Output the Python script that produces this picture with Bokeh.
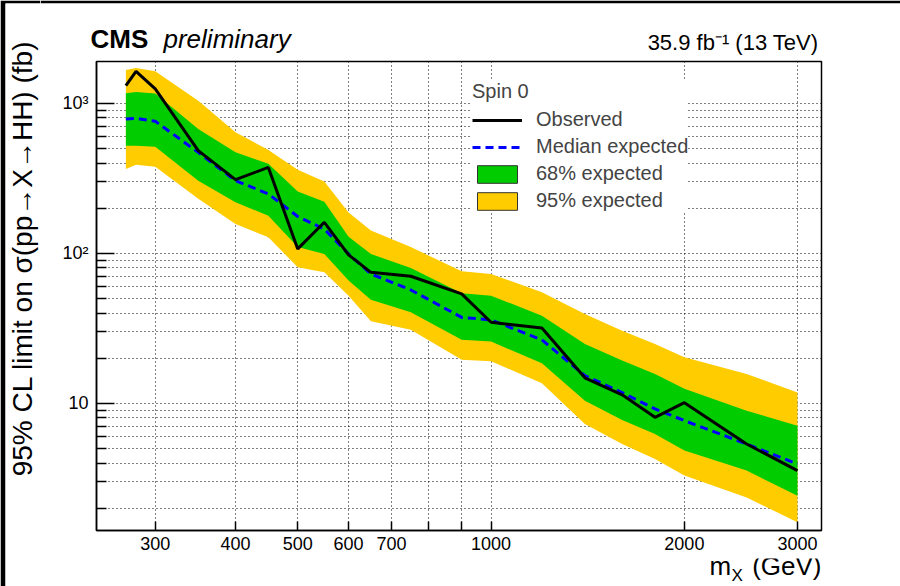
import math
from bokeh.plotting import figure
from bokeh.layouts import column, row
from bokeh.models import (FixedTicker, Label, Legend, LegendItem, Range1d,
                          ColumnDataSource, CDSView, IndexFilter)
from bokeh.embed import file_html
from bokeh.resources import INLINE

# m_X (GeV)
mass = [270, 280, 300, 350, 400, 450, 500, 550, 600, 650, 750, 900,
        1000, 1200, 1400, 1600, 1800, 2000, 2500, 3000]
observed = [1312, 1634, 1247, 484, 310, 374, 107, 161, 97.6, 74.7, 70.3, 53.6,
            34.7, 31.8, 14.8, 11.4, 8.07, 10.1, 5.36, 3.56]
expected = [787, 794, 759, 471, 305, 249, 176, 145, 99, 72.9, 57.0, 37.4,
            36.0, 26.5, 15.3, 11.8, 9.18, 7.67, 5.36, 3.94]
exp_minus1 = [522, 522, 514, 305, 219, 178, 110, 99, 65.8, 49.1, 40.4, 26.5,
              25.8, 18.5, 10.4, 7.75, 6.25, 4.84, 3.56, 2.42]
exp_plus1 = [1166, 1188, 1161, 675, 471, 396, 258, 221, 129, 99, 79.9, 54.1,
             52.2, 38.4, 24.9, 19.3, 15.7, 12.5, 8.94, 7.10]
exp_minus2 = [365, 390, 377, 231, 157, 128, 80.7, 74.7, 52.2, 35.3, 30.9, 19.5,
              19.1, 13.6, 7.29, 5.36, 4.26, 3.30, 2.36, 1.61]
exp_plus2 = [1670, 1722, 1634, 1042, 641, 488, 361, 301, 187, 142, 110, 75.9,
             72.9, 55.0, 39.4, 30.5, 24.9, 20.3, 15.7, 11.8]

x_ticks = [300, 400, 500, 600, 700, 800, 900, 1000, 2000, 3000]
x_tick_labels = ["300", "400", "500", "600", "700", "", "", "1000", "2000", "3000"]
y_ticks = [10, 100, 1000]
y_tick_labels = ["10", "10\u00b2", "10\u00b3"]
y_minor_ticks = [2, 3, 4, 5, 6, 7, 8, 9, 20, 30, 40, 50, 60, 70, 80, 90,
                 200, 300, 400, 500, 600, 700, 800, 900]

FONT = "Liberation Sans"
YELLOW = "#ffcc00"
GREEN = "#00cc00"

LEFT_W = 40
TOP_H = 56
BOT_H = 28
W, H = 900, 586

# ---------------- main plot ----------------
p = figure(width=W - LEFT_W, height=H - TOP_H - BOT_H,
           x_axis_type="log", y_axis_type="log",
           x_range=Range1d(243, 3270), y_range=Range1d(1.42, 1900),
           output_backend="svg", toolbar_location=None,
           min_border_left=56, min_border_right=79, min_border_top=5,
           min_border_bottom=28)
p.frame_align = False
p.background_fill_color = "white"
p.border_fill_color = "white"
p.outline_line_color = "black"
p.outline_line_width = 1.5

# legend proxies (outlined boxes) built from the band data; one interior
# zero-width entry is kept so it is hidden beneath the bands drawn on top
src68 = ColumnDataSource(dict(left=mass, right=mass, top=exp_plus1, bottom=exp_minus1))
src95 = ColumnDataSource(dict(left=mass, right=mass, top=exp_plus2, bottom=exp_minus2))
leg95 = p.quad(left="left", right="right", top="top", bottom="bottom", source=src95,
               view=CDSView(filter=IndexFilter(indices=[5])),
               fill_color=YELLOW, line_color="#333333", line_width=1)
leg68 = p.quad(left="left", right="right", top="top", bottom="bottom", source=src68,
               view=CDSView(filter=IndexFilter(indices=[5])),
               fill_color=GREEN, line_color="#333333", line_width=1)

band95 = p.varea(x=mass, y1=exp_minus2, y2=exp_plus2, fill_color=YELLOW)
band68 = p.varea(x=mass, y1=exp_minus1, y2=exp_plus1, fill_color=GREEN)
med = p.line(mass, expected, line_color="blue", line_width=3, line_dash="8 5")
obs = p.line(mass, observed, line_color="black", line_width=3)

xt = FixedTicker(ticks=x_ticks, minor_ticks=[])
yt = FixedTicker(ticks=y_ticks, minor_ticks=y_minor_ticks)
p.xaxis.ticker = xt
p.yaxis.ticker = yt
p.xgrid.ticker = xt
p.ygrid.ticker = yt
p.xaxis.major_label_overrides = {t: l for t, l in zip(x_ticks, x_tick_labels)}
p.yaxis.major_label_overrides = {t: l for t, l in zip(y_ticks, y_tick_labels)}

for ax in (p.xaxis[0], p.yaxis[0]):
    ax.axis_line_color = "black"
    ax.axis_line_width = 1.5
    ax.major_tick_line_color = "black"
    ax.minor_tick_line_color = "black"
    ax.major_tick_line_width = 1.5
    ax.minor_tick_line_width = 1.5
    ax.major_tick_out = 0
    ax.minor_tick_out = 0
    ax.major_label_text_font = FONT
    ax.major_label_text_font_size = "18px"
    ax.major_label_text_color = "black"

p.xaxis.major_tick_in = 9
p.xaxis.minor_tick_in = 0
p.xaxis.major_label_standoff = 6
p.yaxis.major_tick_in = 18
p.yaxis.minor_tick_in = 10
p.yaxis.major_label_standoff = 8

for g in (p.xgrid[0], p.ygrid[0]):
    g.grid_line_color = "black"
    g.grid_line_dash = "1 3"
    g.grid_line_width = 1
p.ygrid.minor_grid_line_color = "black"
p.ygrid.minor_grid_line_dash = "1 3"
p.ygrid.minor_grid_line_width = 1

legend = Legend(items=[
    LegendItem(label="Observed", renderers=[obs]),
    LegendItem(label="Median expected", renderers=[med]),
    LegendItem(label="68% expected", renderers=[leg68]),
    LegendItem(label="95% expected", renderers=[leg95]),
], title="Spin 0", location=(376, 318))
legend.title_text_font = FONT
legend.title_text_font_size = "20px"
legend.title_text_font_style = "normal"
legend.label_text_font = FONT
legend.label_text_font_size = "20px"
legend.glyph_width = 50
legend.glyph_height = 22
legend.label_height = 22
legend.spacing = 4
legend.padding = 12
legend.margin = 0
legend.label_standoff = 14
legend.title_standoff = 5
legend.background_fill_color = "white"
legend.background_fill_alpha = 1.0
legend.border_line_color = None
p.add_layout(legend)


# ---------------- text strips (frame = canvas minus black edge) ----------------
def strip(w, h, edge_left=0, edge_top=0):
    s = figure(width=w, height=h, x_range=Range1d(0, 1), y_range=Range1d(0, 1),
               output_backend="svg", toolbar_location=None, min_border=0,
               min_border_left=edge_left, min_border_top=edge_top,
               x_axis_location=None, y_axis_location=None)
    s.frame_align = False
    s.outline_line_color = None
    s.background_fill_color = "white"
    s.border_fill_color = "black" if (edge_left or edge_top) else "white"
    s.grid.visible = False
    return s


def lab(fig, text, x, y, size_px, style="normal", align="left", angle=0):
    # canvas units: x from left, y from top of that strip; (x, y) is the
    # intended baseline point, converted to a middle-baseline anchor
    shift = 0.35 * size_px
    if angle:
        x = x - shift
    else:
        y = y - shift
    fig.add_layout(Label(x=x, y=y, x_units="canvas", y_units="canvas", text=text,
                         text_font=FONT, text_font_size=f"{size_px}px",
                         text_font_style=style, text_align=align,
                         text_baseline="middle", angle=angle, text_color="black"))


left = strip(LEFT_W, H, edge_left=5, edge_top=3)
lab(left, "95% CL limit on \u03c3(pp\u2192X\u2192HH) (fb)", 32, 40, 28,
    align="right", angle=math.pi / 2)

top = strip(W - LEFT_W, TOP_H, edge_top=3)
lab(top, "CMS", 90 - LEFT_W, 48, 26, style="bold")
lab(top, "preliminary", 163 - LEFT_W, 48, 26, style="italic")
lab(top, "35.9 fb\u207b\u00b9 (13 TeV)", 818 - LEFT_W, 50, 22, align="right")

bottom = strip(W - LEFT_W, BOT_H)
y0 = H - BOT_H
lab(bottom, "m", 709 - LEFT_W, 575 - y0, 26)
lab(bottom, "X", 731 - LEFT_W, 581 - y0, 17)
lab(bottom, "(GeV)", 821 - LEFT_W, 575 - y0, 26, align="right")

layout = row(left, column(top, p, bottom, spacing=0), spacing=0)

open("out.html", "w").write(file_html(layout, INLINE))
